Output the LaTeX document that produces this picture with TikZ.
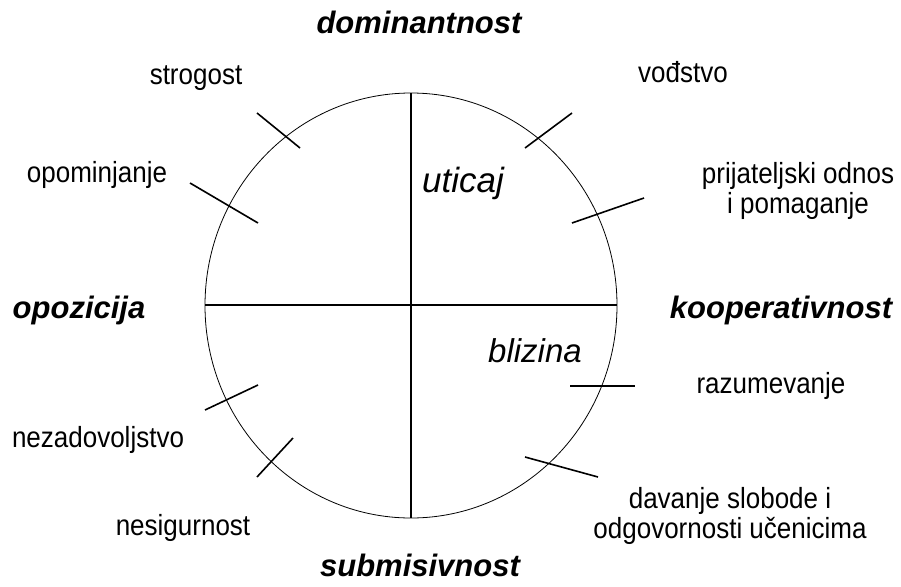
\documentclass[tikz,border=0pt]{standalone}
\usepackage{fontspec}
\usepackage{graphicx}
\setmainfont{Liberation Sans}
% labels are set a little taller than wide
\newcommand{\tallbox}[1]{\scalebox{1}[1.12]{#1}}
\newcommand{\twolines}[2]{\tallbox{\fontsize{26}{26.5}\selectfont\begin{tabular}[t]{@{}c@{}}#1\\#2\end{tabular}}}
\begin{document}
\begin{tikzpicture}[x=1pt,y=-1pt,
  lbl/.style={font=\fontsize{26}{30}\selectfont, inner sep=0pt, anchor=base},
  pole/.style={font=\fontsize{31}{36}\selectfont\bfseries\itshape, inner sep=0pt, anchor=base},
  quad/.style={font=\fontsize{33}{38}\selectfont\itshape, inner sep=0pt, anchor=base},
  axisline/.style={line width=1.6pt},
  tickmark/.style={line width=1.6pt},
  rim/.style={line width=0.8pt}]
  \useasboundingbox (0,0) rectangle (901,586);

  % circle and its two axes
  \draw[rim] (411,305.5) ellipse [x radius=206, y radius=212.5];
  \draw[axisline] (411,93) -- (411,518);
  \draw[axisline] (205,305) -- (617,305);

  % marks on the rim
  \draw[tickmark] (257,113) -- (300,148);
  \draw[tickmark] (190,183) -- (258,223);
  \draw[tickmark] (525,148) -- (572,113);
  \draw[tickmark] (572,223) -- (644,198);
  \draw[tickmark] (570,386) -- (635,386);
  \draw[tickmark] (525,457) -- (598,477);
  \draw[tickmark] (257,477) -- (293,438);
  \draw[tickmark] (205,410) -- (258,385);

  % poles of the two axes
  \node[pole] (dom) at (419,34) {dominantnost};
  \node[pole] (sub) at (420,576) {submisivnost};
  \node[pole] (opo) at (79,318) {opozicija};
  \node[pole] (koo) at (781,318) {kooperativnost};

  % quadrant names
  \node[quad, font=\fontsize{35}{40}\selectfont\itshape] (uti) at (463,192) {uticaj};
  \node[quad] (bli) at (535,362) {blizina};

  % behaviours around the circle
  \node[lbl] (stro) at (196,84) {\tallbox{strogost}};
  \node[lbl] (vod) at (683,82) {\tallbox{vođstvo}};
  \node[lbl] (opom) at (97,182) {\tallbox{opominjanje}};
  \node[lbl] (prij) at (798,183) {\twolines{prijateljski odnos}{i pomaganje}};
  \node[lbl] (razu) at (771,393) {\tallbox{razumevanje}};
  \node[lbl] (neza) at (98,447) {\tallbox{nezadovoljstvo}};
  \node[lbl] (nesi) at (183,535) {\tallbox{nesigurnost}};
  \node[lbl] (dava) at (730,508) {\twolines{davanje slobode i}{odgovornosti učenicima}};
\end{tikzpicture}
\end{document}
